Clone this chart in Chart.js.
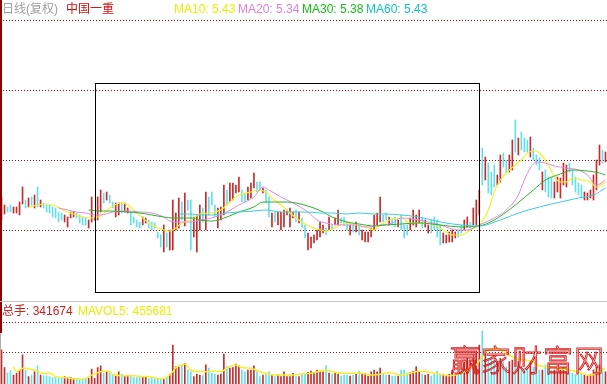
<!DOCTYPE html>
<html><head><meta charset="utf-8">
<script src="https://cdn.jsdelivr.net/npm/chart.js@4.4.1/dist/chart.umd.min.js"></script>
<style>
html,body{margin:0;padding:0;background:#fff;}
body{width:607px;height:384px;overflow:hidden;position:relative;font-family:"Liberation Sans","Noto Sans CJK SC",sans-serif;}
canvas{position:absolute;left:0;display:block;}
.t{position:absolute;font-size:12px;line-height:14px;white-space:nowrap;}
.box{position:absolute;box-sizing:border-box;border:1px solid #000;}
.wm{position:absolute;left:450px;top:342px;font-family:"Noto Sans CJK SC",sans-serif;font-weight:300;font-size:30px;line-height:32px;letter-spacing:1px;color:transparent;-webkit-text-stroke:0.9px #d81c1c;white-space:nowrap;}
</style>
</head><body>
<canvas id="pc" width="607" height="301" style="top:0"></canvas>
<canvas id="vc" width="607" height="82" style="top:302px"></canvas>
<div style="position:absolute;left:0;top:0;width:2px;height:333px;background:#8b0000"></div>
<div style="position:absolute;left:0;top:333px;width:1px;height:51px;background:#b0b0b0"></div>
<div style="position:absolute;left:0;top:301px;width:607px;height:1px;background:#c4c4c4"></div>
<div class="box" style="left:95px;top:83px;width:385px;height:210px"></div>
<div class="t" style="left:2px;top:2px;color:#a0a0a0">日线(复权)</div>
<div class="t" style="left:66px;top:2px;color:#cc1010">中国一重</div>
<div class="t" id="m10" style="left:174px;top:2px;color:#eeee00"></div>
<div class="t" id="m20" style="left:238px;top:2px;color:#e07ee0"></div>
<div class="t" id="m30" style="left:302px;top:2px;color:#10c010"></div>
<div class="t" id="m60" style="left:366px;top:2px;color:#10c4c4"></div>
<div class="t" id="vt" style="left:2px;top:304px;color:#cc2020"></div>
<div class="t" id="mv" style="left:78px;top:304px;color:#eeee00"></div>
<div class="wm">赢家财富网</div>
<script>
// ---- data ----
const stockName = "中国一重";
const maLabels = {ma10: 5.43, ma20: 5.34, ma30: 5.38, ma60: 5.43};
const lastVolume = 341674;
const lastMavol5 = 455681;

const highs = [
5.28,5.20,5.18,5.20,5.18,5.18,5.23,5.38,5.25,5.27,
5.28,5.30,5.38,5.25,5.22,5.20,5.20,5.18,5.17,5.13,
5.12,5.10,5.08,5.13,5.13,5.12,5.10,5.08,5.07,5.05,
5.28,5.08,5.28,5.35,5.32,5.33,5.30,5.23,5.22,5.22,
5.22,5.22,5.17,5.13,5.08,5.05,5.03,5.08,5.07,5.05,
5.03,5.02,4.93,4.90,5.00,4.92,4.95,5.25,5.12,5.27,
5.23,5.32,5.25,5.25,5.08,5.10,5.20,5.17,5.33,5.28,
5.33,5.20,5.17,5.18,5.40,5.35,5.42,5.42,5.40,5.48,
5.35,5.32,5.38,5.42,5.52,5.43,5.43,5.37,5.35,5.28,
5.12,5.13,5.13,5.13,5.15,5.15,5.17,5.13,5.15,5.13,
5.07,5.00,4.92,4.88,4.90,4.95,5.03,5.00,4.97,5.08,
5.00,5.07,5.15,5.07,5.08,5.03,5.00,5.00,5.03,5.00,
4.95,4.93,4.93,4.97,5.10,5.12,5.28,5.10,5.12,5.08,
5.07,5.08,5.05,5.10,5.00,5.00,5.07,5.15,5.10,5.15,
5.07,5.05,5.00,5.05,5.08,5.05,5.00,4.92,4.90,4.93,
4.95,4.93,4.95,5.00,5.05,5.08,5.03,5.17,5.25,5.35,
5.77,5.68,5.62,5.53,5.60,5.50,5.70,5.72,5.65,5.70,
5.85,6.05,5.87,5.93,5.87,5.85,5.88,5.77,5.70,5.67,
5.53,5.55,5.48,5.47,5.43,5.48,5.47,5.62,5.60,5.62,
5.55,5.48,5.42,5.40,5.33,5.32,5.35,5.50,5.65,5.80,
5.75,5.73];

const lows = [
5.05,5.11,5.13,5.13,5.12,5.12,5.10,5.21,5.17,5.18,
5.20,5.17,5.18,5.18,5.17,5.13,5.12,5.08,5.07,5.03,
5.05,5.03,4.98,5.07,5.08,5.07,5.02,5.00,5.00,4.97,
5.03,5.05,5.05,5.13,5.22,5.25,5.22,5.17,5.08,5.10,
5.12,5.13,5.12,5.00,5.02,4.98,4.97,5.00,5.02,4.97,
4.95,4.97,4.87,4.78,4.73,4.78,4.75,4.75,4.95,4.97,
5.05,4.99,5.15,4.75,4.88,4.73,4.95,5.03,4.95,5.10,
5.20,5.08,4.97,5.05,5.10,5.20,5.23,5.25,5.32,5.33,
5.23,5.23,5.25,5.27,5.37,5.33,5.35,5.32,5.22,5.08,
4.98,5.03,5.00,4.95,4.98,5.10,4.98,5.07,5.03,5.02,
4.98,4.87,4.75,4.77,4.82,4.85,4.88,4.92,4.90,4.95,
4.95,5.00,5.00,5.02,5.00,4.95,4.90,4.93,4.93,4.90,
4.85,4.83,4.83,4.88,4.95,5.00,5.03,5.03,5.05,5.00,
5.00,4.98,4.98,4.95,4.87,4.90,4.95,5.00,4.98,5.02,
4.97,4.98,4.92,4.92,4.95,4.88,4.80,4.82,4.82,4.83,
4.83,4.87,4.88,4.92,4.95,4.98,4.97,5.00,5.00,5.10,
5.40,5.45,5.32,5.30,5.38,5.40,5.43,5.58,5.52,5.53,
5.55,5.73,5.70,5.75,5.73,5.73,5.68,5.65,5.60,5.55,
5.35,5.33,5.28,5.27,5.27,5.33,5.27,5.40,5.38,5.53,
5.40,5.33,5.30,5.27,5.25,5.25,5.27,5.25,5.35,5.60,
5.62,5.63];

// 1 = up day (red), 0 = down day (cyan)
const upDays = [
1,1,0,0,1,1,1,1,0,1, 0,1,0,1,0,0,0,0,0,0, 0,1,1,1,1,0,0,0,0,1, 1,1,1,1,0,1,0,0,1,1,
0,1,1,0,0,0,0,1,1,0, 0,0,0,0,1,0,1,1,1,1, 0,1,0,0,1,1,1,0,1,0, 0,0,1,1,1,0,1,1,1,1,
0,0,1,1,1,0,0,1,0,0, 1,0,1,1,1,1,1,1,0,1, 0,0,1,1,1,1,1,1,0,1, 0,1,1,0,0,0,1,0,1,0,
1,1,1,1,1,1,1,0,0,1, 0,0,1,0,0,0,1,1,1,1, 0,1,1,0,0,0,0,1,1,1, 1,1,0,0,1,1,0,1,1,1,
0,1,0,0,0,1,1,0,0,1, 1,0,1,0,0,0,1,0,0,0, 1,0,0,0,1,1,1,1,1,0, 0,0,0,0,1,1,1,1,1,1,
0,1];

// volume, millions of shares (手)
const volumes = [
1.07,0.48,0.30,0.37,0.23,0.29,0.40,0.90,0.40,0.18,
0.23,0.34,0.54,0.23,0.21,0.21,0.18,0.15,0.15,0.12,
0.12,0.18,0.12,0.15,0.12,0.12,0.10,0.10,0.12,0.12,
0.43,0.12,0.48,0.54,0.29,0.34,0.34,0.23,0.20,0.34,
0.26,0.21,0.23,0.18,0.15,0.15,0.15,0.15,0.18,0.12,
0.15,0.12,0.12,0.12,0.10,0.15,0.26,1.23,0.51,0.51,
0.57,0.62,0.40,0.34,0.18,0.26,0.23,0.21,0.57,0.46,
0.29,0.26,0.23,0.26,0.93,0.51,0.46,0.48,0.60,0.54,
0.40,0.34,0.40,0.40,0.54,0.34,0.18,0.23,0.29,0.34,
0.21,0.18,0.23,0.18,0.34,0.18,0.18,0.29,0.18,0.18,
0.26,0.29,0.32,0.36,0.30,0.40,0.36,0.34,0.54,0.30,
0.26,0.30,0.26,0.20,0.23,0.23,0.20,0.23,0.29,0.36,
0.26,0.29,0.20,0.34,0.40,0.34,0.46,0.29,0.23,0.23,
0.20,0.20,0.20,0.40,0.40,0.30,0.32,0.36,0.51,0.34,
0.26,0.23,0.26,0.20,0.26,0.36,0.23,0.26,0.23,0.26,
0.40,0.23,0.26,0.40,0.62,0.79,0.46,0.79,0.96,1.23,
1.70,0.96,0.79,0.84,0.68,0.68,0.79,0.68,0.51,0.68,
0.73,0.96,0.68,0.51,0.46,0.46,0.68,0.50,0.51,0.40,
0.40,0.57,0.46,0.40,0.40,0.32,0.40,0.48,0.34,0.32,
0.29,0.25,0.23,0.26,0.23,0.20,0.26,0.40,0.50,0.57,
0.46,0.34];

// moving averages at sample days
const ma10Days = [9,12,15,18,21,24,27,30,33,36,40,42,44,47,50,54,56,58,60,63,66,69,73,76,79,83,85,88,90,93,96,99,103,106,108,112,115,118,122,124,126,129,133,136,139,144,147,150,153,156,159,162,164,166,169,173,175,178,179,182,184,186,188,190,193,196,198,201];
const ma10 = [5.18,5.20,5.21,5.19,5.14,5.11,5.08,5.07,5.09,5.17,5.22,5.20,5.15,5.07,5.00,4.95,4.94,4.97,5.02,5.05,5.11,5.12,5.15,5.23,5.30,5.33,5.35,5.33,5.27,5.20,5.12,5.05,4.98,4.95,4.94,4.99,5.02,5.00,4.97,4.95,5.00,5.05,5.07,5.02,5.02,5.00,4.95,4.90,4.90,4.95,5.00,5.15,5.33,5.45,5.55,5.65,5.72,5.74,5.72,5.60,5.48,5.43,5.43,5.47,5.45,5.43,5.38,5.43];

const ma20Days = [19,22,25,28,31,33,37,42,46,50,54,56,60,63,66,70,75,79,84,87,89,93,97,102,105,108,113,117,122,126,130,133,139,146,152,155,159,164,168,172,174,176,178,181,184,188,192,195,198,201];
const ma20 = [5.17,5.15,5.13,5.12,5.10,5.10,5.13,5.14,5.13,5.12,5.08,5.04,5.03,5.03,5.05,5.07,5.13,5.20,5.28,5.38,5.35,5.28,5.22,5.13,5.05,5.02,5.00,5.00,4.98,5.00,5.02,5.07,5.05,5.00,4.95,4.95,5.00,5.07,5.15,5.30,5.45,5.57,5.63,5.62,5.59,5.57,5.55,5.50,5.40,5.45];

const ma30Days = [29,33,36,42,46,50,54,57,60,64,66,70,75,79,84,87,90,95,98,103,107,110,115,119,124,128,133,139,146,153,159,164,168,171,177,181,186,190,195,199,201];
const ma30 = [5.15,5.14,5.14,5.13,5.12,5.10,5.08,5.07,5.07,5.07,5.05,5.04,5.08,5.13,5.18,5.23,5.23,5.23,5.22,5.18,5.13,5.08,5.03,5.01,4.99,5.00,5.01,5.02,5.00,4.98,4.99,5.05,5.13,5.20,5.35,5.45,5.51,5.55,5.54,5.52,5.50];

const ma60Days = [59,63,66,70,75,79,84,88,93,97,102,106,110,115,119,124,128,133,139,146,153,159,166,172,179,186,192,197,201];
const ma60 = [5.11,5.11,5.10,5.10,5.12,5.13,5.14,5.15,5.13,5.13,5.13,5.12,5.12,5.11,5.12,5.11,5.11,5.10,5.08,5.03,5.00,4.99,5.05,5.12,5.18,5.23,5.27,5.30,5.37];

const mavol5Days = [4,5,7,8,10,12,13,16,18,22,25,28,30,33,35,37,40,44,47,49,52,54,57,58,60,61,63,66,69,71,73,75,78,80,83,86,89,91,93,97,99,103,106,108,110,114,117,119,123,126,129,133,136,139,143,146,149,153,155,158,160,162,165,167,169,171,174,177,179,183,186,189,193,196,198,201];
const mavol5 = [0.51,0.34,0.46,0.46,0.42,0.37,0.29,0.29,0.18,0.14,0.09,0.12,0.23,0.34,0.37,0.26,0.21,0.21,0.18,0.18,0.12,0.12,0.34,0.48,0.57,0.60,0.40,0.34,0.34,0.37,0.34,0.46,0.57,0.48,0.46,0.34,0.26,0.23,0.23,0.23,0.26,0.29,0.36,0.40,0.34,0.29,0.29,0.30,0.23,0.26,0.32,0.23,0.29,0.36,0.32,0.26,0.21,0.29,0.40,0.57,0.84,1.07,1.12,1.01,0.90,0.79,0.73,0.68,0.54,0.51,0.43,0.40,0.29,0.23,0.29,0.46];

const priceGrid = [7.05, 6.35, 5.65, 4.95];
const volumeGrid = [1, 2];

// ---- labels ----
document.getElementById('m10').textContent = 'MA10: ' + maLabels.ma10.toFixed(2);
document.getElementById('m20').textContent = 'MA20: ' + maLabels.ma20.toFixed(2);
document.getElementById('m30').textContent = 'MA30: ' + maLabels.ma30.toFixed(2);
document.getElementById('m60').textContent = 'MA60: ' + maLabels.ma60.toFixed(2);
document.getElementById('vt').textContent = '总手: ' + lastVolume;
document.getElementById('mv').textContent = 'MAVOL5: ' + lastMavol5;

// ---- styles ----
const RED = '#c92a2a', CYAN = '#62e0ee';
const barColors = upDays.map(u => u ? RED : CYAN);
const nDays = highs.length;

function dottedGrid(values) {
  return {
    id: 'dottedGrid',
    beforeDatasetsDraw(chart) {
      const y = chart.scales.y, ctx = chart.ctx;
      ctx.save();
      ctx.strokeStyle = '#9a1010';
      ctx.lineWidth = 1;
      ctx.setLineDash([1, 2]);
      values.forEach(v => {
        const p = Math.round(y.getPixelForValue(v)) + 0.5;
        ctx.beginPath(); ctx.moveTo(0, p); ctx.lineTo(chart.width, p); ctx.stroke();
      });
      ctx.restore();
    }
  };
}

function maLine(days, vals, color, width) {
  return {
    type: 'line',
    data: days.map((d, i) => ({x: d, y: vals[i]})),
    borderColor: color, borderWidth: width || 1, pointRadius: 0,
    cubicInterpolationMode: 'monotone', order: 1
  };
}

const commonOpts = {
  responsive: false, animation: false, events: [], devicePixelRatio: 1,
  layout: {padding: 0},
  plugins: {legend: {display: false}, tooltip: {enabled: false}}
};

const xScale = {type: 'linear', offset: false, bounds: 'ticks', min: -0.5, max: nDays - 0.5, display: false};

new Chart(document.getElementById('pc'), {
  type: 'bar',
  data: {
    datasets: [
      {
        type: 'bar',
        data: highs.map((h, i) => ({x: i, y: [lows[i], h]})),
        backgroundColor: barColors, barThickness: 1, order: 10
      },
      maLine(ma60Days, ma60, '#3ccfd8'),
      maLine(ma30Days, ma30, '#2eb02e'),
      maLine(ma20Days, ma20, '#e08ae0'),
      maLine(ma10Days, ma10, '#f4f030', 1.2)
    ]
  },
  options: Object.assign({}, commonOpts, {
    scales: {
      x: xScale,
      y: {min: 4.24, max: 7.25, display: false}
    }
  }),
  plugins: [dottedGrid(priceGrid)]
});

const volMin = -0.0667;
new Chart(document.getElementById('vc'), {
  type: 'bar',
  data: {
    datasets: [
      {
        type: 'bar',
        data: volumes.map((v, i) => ({x: i, y: v})),
        backgroundColor: barColors, barThickness: 1, base: volMin, order: 10
      },
      maLine(mavol5Days, mavol5, '#f4f030', 1.5)
    ]
  },
  options: Object.assign({}, commonOpts, {
    scales: {
      x: xScale,
      y: {min: volMin, max: 2.6667, display: false}
    }
  }),
  plugins: [dottedGrid(volumeGrid)]
});
</script>
</body></html>
